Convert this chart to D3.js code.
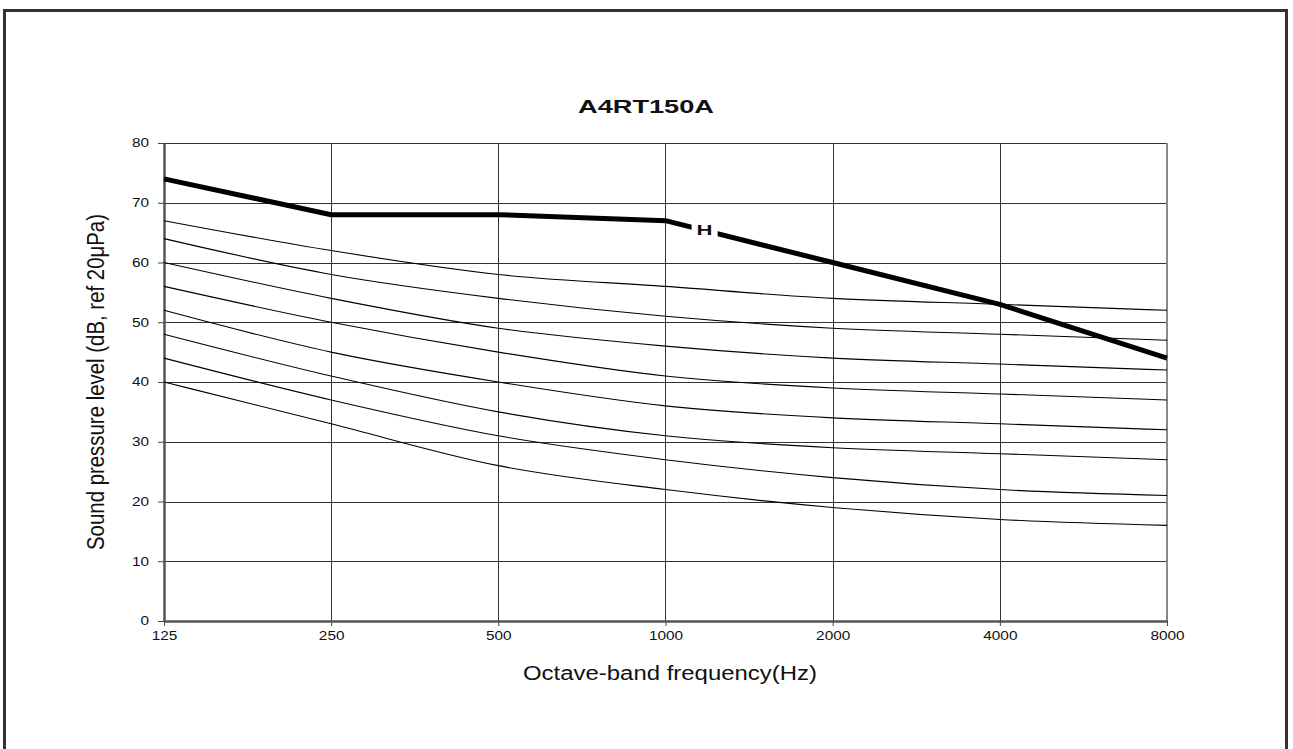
<!DOCTYPE html>
<html>
<head>
<meta charset="utf-8">
<script src="https://cdn.jsdelivr.net/npm/d3@7"></script>
<style>
  html, body { margin: 0; padding: 0; background: #fff; }
  svg { display: block; }
  text { font-family: "Liberation Sans", Arial, sans-serif; fill: #111; }
</style>
</head>
<body>
<svg id="chart" width="1293" height="749"></svg>
<script>
// Octave-band centre frequencies (Hz)
const frequencies = [125, 250, 500, 1000, 2000, 4000, 8000];
const frequencyLabels = ["125", "250", "500", "1000", "2000", "4000", "8000"];
const levelTicks = [0, 10, 20, 30, 40, 50, 60, 70, 80];

// Measured sound pressure level, bold curve labelled "H"
const levelH = [74, 68, 68, 67, 60, 53, 44];

// Reference curves (dB)
const curve1 = [67, 62, 58, 56, 54, 53, 52];
const curve2 = [64, 58, 54, 51, 49, 48, 47];
const curve3 = [60, 54, 49, 46, 44, 43, 42];
const curve4 = [56, 50, 45, 41, 39, 38, 37];
const curve5 = [52, 45, 40, 36, 34, 33, 32];
const curve6 = [48, 41, 35, 31, 29, 28, 27];
const curve7 = [44, 37, 31, 27, 24, 22, 21];
const curve8 = [40, 33, 26, 22, 19, 17, 16];
const referenceCurves = [curve1, curve2, curve3, curve4, curve5, curve6, curve7, curve8];

const svg = d3.select("#chart");
const W = 1293, H = 749;
const plot = { left: 164, right: 1167, top: 143, bottom: 621 };

// stretch a text element horizontally to a given width
function fitWidth(sel, width) {
  sel.attr("textLength", width).attr("lengthAdjust", "spacingAndGlyphs");
}
function stretch(sel, k) {
  sel.each(function () {
    const w = this.getComputedTextLength();
    d3.select(this).attr("textLength", w * k).attr("lengthAdjust", "spacingAndGlyphs");
  });
}

// outer frame
svg.append("rect")
  .attr("x", 4.5).attr("y", 10.5)
  .attr("width", 1282).attr("height", 800)
  .attr("fill", "none").attr("stroke", "#333").attr("stroke-width", 3);

const x = d3.scaleLog().base(2)
  .domain([frequencies[0], frequencies[frequencies.length - 1]])
  .range([plot.left, plot.right]);
const y = d3.scaleLinear().domain([0, 80]).range([plot.bottom, plot.top]);

// grid
const grid = svg.append("g");
grid.selectAll("line.h").data(levelTicks.slice(1)).join("line")
  .attr("x1", plot.left).attr("x2", plot.right)
  .attr("y1", d => Math.round(y(d)) + 0.5).attr("y2", d => Math.round(y(d)) + 0.5)
  .attr("stroke", "#333").attr("stroke-width", 1);
grid.selectAll("line.v").data(frequencies.slice(1, -1)).join("line")
  .attr("y1", plot.top).attr("y2", plot.bottom)
  .attr("x1", d => Math.round(x(d)) + 0.5).attr("x2", d => Math.round(x(d)) + 0.5)
  .attr("stroke", "#333").attr("stroke-width", 1);
// right edge of plot area
grid.append("line")
  .attr("x1", plot.right).attr("x2", plot.right)
  .attr("y1", plot.top).attr("y2", plot.bottom)
  .attr("stroke", "#888").attr("stroke-width", 2);

// axes
const yAxis = svg.append("g")
  .attr("transform", `translate(${plot.left},0)`)
  .call(d3.axisLeft(y).tickValues(levelTicks).tickSize(6).tickPadding(9).tickSizeOuter(0));
const xAxis = svg.append("g")
  .attr("transform", `translate(0,${plot.bottom})`)
  .call(d3.axisBottom(x).tickValues(frequencies)
    .tickFormat((d, i) => frequencyLabels[i])
    .tickSize(5).tickPadding(5).tickSizeOuter(0));

[yAxis, xAxis].forEach(ax => {
  ax.select(".domain").attr("stroke", "#555").attr("stroke-width", 2.5);
  ax.selectAll(".tick line").attr("stroke", "#444").attr("stroke-width", 1);
  ax.selectAll(".tick text")
    .attr("font-family", "Liberation Sans, Arial, sans-serif")
    .attr("font-size", 12).attr("fill", "#111");
  stretch(ax.selectAll(".tick text"), 1.28);
});

// reference curves
const thinLine = d3.line()
  .x((d, i) => x(frequencies[i]))
  .y(d => y(d))
  .curve(d3.curveMonotoneX);
svg.append("g").selectAll("path").data(referenceCurves).join("path")
  .attr("d", thinLine)
  .attr("fill", "none").attr("stroke", "#000").attr("stroke-width", 1.1);

// bold curve
const boldLine = d3.line()
  .x((d, i) => x(frequencies[i]))
  .y(d => y(d));
svg.append("path")
  .datum(levelH)
  .attr("d", boldLine)
  .attr("fill", "none").attr("stroke", "#000").attr("stroke-width", 5)
  .attr("stroke-linejoin", "round");

// "H" label sitting on the bold curve between 1000 and 2000 Hz
const t = 0.234;
const lx = x(frequencies[3]) + (x(frequencies[4]) - x(frequencies[3])) * t;
const ly = y(levelH[3] + (levelH[4] - levelH[3]) * t);
svg.append("rect")
  .attr("x", lx - 13).attr("y", ly - 8)
  .attr("width", 26).attr("height", 15)
  .attr("fill", "#fff");
const hLabel = svg.append("text")
  .attr("x", lx).attr("y", ly + 5)
  .attr("text-anchor", "middle")
  .attr("font-weight", "bold").attr("font-size", 14)
  .text("H");
fitWidth(hLabel, 16);

// title
const title = svg.append("text")
  .attr("x", 646).attr("y", 113)
  .attr("text-anchor", "middle")
  .attr("font-weight", "bold").attr("font-size", 17.5)
  .text("A4RT150A");
fitWidth(title, 136);

// axis titles
const xTitle = svg.append("text")
  .attr("x", 670).attr("y", 680)
  .attr("text-anchor", "middle")
  .attr("font-size", 20)
  .text("Octave-band frequency(Hz)");
fitWidth(xTitle, 294);

const yTitle = svg.append("text")
  .attr("transform", `translate(104,${(plot.top + plot.bottom) / 2}) rotate(-90)`)
  .attr("text-anchor", "middle")
  .attr("font-size", 23)
  .text("Sound pressure level (dB, ref 20μPa)");
fitWidth(yTitle, 336);
</script>
</body>
</html>
